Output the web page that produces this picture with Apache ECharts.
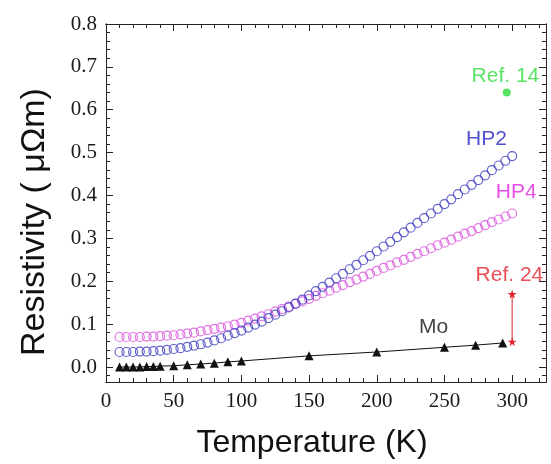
<!DOCTYPE html>
<html>
<head>
<meta charset="utf-8">
<script src="https://cdn.jsdelivr.net/npm/echarts@6/dist/echarts.min.js"></script>
<style>
  html, body { margin: 0; padding: 0; background: #fff; }
  #chart { width: 551px; height: 464px; }
</style>
</head>
<body>
<div id="chart"></div>
<script>
// temperatures of the HP samples (K)
var tempHP = [10, 15, 20, 25, 30, 35, 40, 45, 50, 55, 60, 65, 70, 75, 80, 85, 90, 95, 100,
  105, 110, 115, 120, 125, 130, 135, 140, 145, 150, 155, 160, 165, 170, 175, 180, 185, 190, 195, 200,
  205, 210, 215, 220, 225, 230, 235, 240, 245, 250, 255, 260, 265, 270, 275, 280, 285, 290, 295, 300];
var rhoHP2 = [0.035, 0.035, 0.035, 0.036, 0.036, 0.037, 0.038, 0.040, 0.042, 0.044, 0.047, 0.050, 0.053, 0.057, 0.062, 0.067, 0.073, 0.079, 0.085,
  0.092, 0.099, 0.106, 0.114, 0.122, 0.130, 0.139, 0.148, 0.157, 0.167, 0.177, 0.187, 0.197, 0.207, 0.217, 0.228, 0.238, 0.249, 0.259, 0.270,
  0.281, 0.292, 0.303, 0.314, 0.325, 0.336, 0.347, 0.358, 0.369, 0.380, 0.391, 0.403, 0.414, 0.425, 0.436, 0.447, 0.459, 0.470, 0.481, 0.492];
var rhoHP4 = [0.070, 0.070, 0.070, 0.070, 0.071, 0.071, 0.072, 0.073, 0.074, 0.076, 0.078, 0.080, 0.083, 0.086, 0.089, 0.092, 0.095, 0.099, 0.103,
  0.108, 0.113, 0.118, 0.123, 0.129, 0.135, 0.141, 0.147, 0.153, 0.159, 0.166, 0.172, 0.178, 0.185, 0.191, 0.198, 0.204, 0.211, 0.217, 0.224,
  0.231, 0.237, 0.244, 0.250, 0.257, 0.264, 0.270, 0.277, 0.284, 0.290, 0.297, 0.304, 0.311, 0.317, 0.324, 0.331, 0.338, 0.344, 0.351, 0.358];

// Mo reference
var tempMo = [10, 15, 20, 25, 30, 35, 40, 50, 60, 70, 80, 90, 100, 150, 200, 250, 273, 293];
var rhoMo = [0.000, 0.000, 0.000, 0.000, 0.001, 0.001, 0.002, 0.003, 0.005, 0.007, 0.009, 0.012, 0.014, 0.026, 0.035, 0.046, 0.051, 0.056];

// literature points
var ref14 = [[296, 0.640]];
var ref24 = [[300, 0.059], [300, 0.170]];

// axis ticks
var xTicks = [0, 50, 100, 150, 200, 250, 300];
var yTicks = [0, 0.1, 0.2, 0.3, 0.4, 0.5, 0.6, 0.7, 0.8];

// curve labels: text, T, rho, colour
var notes = [
  ['Ref. 14', 295, 0.678, '#2fdc3c'],
  ['HP2', 281, 0.531, '#2323c4'],
  ['HP4', 303, 0.408, '#e024e0'],
  ['Ref. 24', 298, 0.213, '#e4222a'],
  ['Mo', 242, 0.092, '#111']
];

var xMinor = [], yMinor = [];
for (var i = 10; i <= 320; i += 10) xMinor.push(i);
for (var j = -1; j <= 40; j++) yMinor.push(Math.round(j * 2) / 100);

var X_MIN = 0, X_MAX = 325, Y_MIN = -0.035, Y_MAX = 0.8;
var lineCol = '#222';

function makeX(pos, ticks, len, withLabels) {
  var ax = {
    type: 'value', position: pos, min: X_MIN, max: X_MAX,
    axisLine: { show: true, onZero: false, lineStyle: { color: lineCol, width: 1 } },
    axisTick: { show: true, inside: true, length: len, customValues: ticks, lineStyle: { color: lineCol, width: 1 } },
    axisLabel: { show: false },
    splitLine: { show: false }
  };
  if (withLabels) {
    ax.axisLabel = {
      show: true, customValues: xTicks, margin: 9,
      fontFamily: 'Liberation Serif', fontSize: 21, color: '#1a1a1a'
    };
    ax.name = 'Temperature (K)';
    ax.nameLocation = 'middle';
    ax.nameGap = 45;
    ax.nameTextStyle = { fontFamily: 'Liberation Sans', fontSize: 32, color: '#111', padding: [0, 28, 0, 0] };
  }
  return ax;
}

function makeY(pos, ticks, len, withLabels) {
  var ax = {
    type: 'value', position: pos, min: Y_MIN, max: Y_MAX,
    axisLine: { show: true, onZero: false, lineStyle: { color: lineCol, width: 1 } },
    axisTick: { show: true, inside: true, length: len, customValues: ticks, lineStyle: { color: lineCol, width: 1 } },
    axisLabel: { show: false },
    splitLine: { show: false }
  };
  if (withLabels) {
    ax.axisLabel = {
      show: true, customValues: yTicks, margin: 9,
      fontFamily: 'Liberation Serif', fontSize: 21, color: '#1a1a1a',
      formatter: function (v) { return v.toFixed(1); }
    };
    ax.name = 'Resistivity ( \u03bc\u03a9m)';
    ax.nameLocation = 'middle';
    ax.nameGap = 54;
    ax.nameTextStyle = { fontFamily: 'Liberation Sans', fontSize: 34, color: '#111', padding: [0, 38, 0, 0] };
  }
  return ax;
}

function pairs(xs, ys) {
  return xs.map(function (x, k) { return [x, ys[k]]; });
}

var starPath = 'path://M50,0 L61,35 L98,35 L68,57 L79,91 L50,70 L21,91 L32,57 L2,35 L39,35 Z';

var option = {
  animation: false,
  backgroundColor: '#fff',
  grid: { left: 106, right: 5, top: 24, bottom: 81 },
  xAxis: [
    makeX('bottom', xTicks, 7, true),
    makeX('bottom', xMinor, 4, false),
    makeX('top', xTicks, 7, false),
    makeX('top', xMinor, 4, false)
  ],
  yAxis: [
    makeY('left', yTicks, 7, true),
    makeY('left', yMinor, 4, false),
    makeY('right', yTicks, 7, false),
    makeY('right', yMinor, 4, false)
  ],
  series: [
    {
      name: 'HP4', type: 'scatter', symbol: 'circle', symbolSize: 9,
      data: pairs(tempHP, rhoHP4),
      itemStyle: { color: 'rgba(255,255,255,0)', borderColor: '#d850dc', borderWidth: 1.2 }
    },
    {
      name: 'HP2', type: 'scatter', symbol: 'circle', symbolSize: 9,
      data: pairs(tempHP, rhoHP2),
      itemStyle: { color: 'rgba(255,255,255,0)', borderColor: '#3c3cc0', borderWidth: 1.2 }
    },
    {
      name: 'Mo', type: 'line', symbol: 'triangle', symbolSize: 9, showSymbol: true,
      data: pairs(tempMo, rhoMo),
      lineStyle: { color: '#111', width: 1 },
      itemStyle: { color: '#111' }
    },
    {
      name: 'Ref. 24', type: 'line', symbol: starPath, symbolSize: 9,
      data: ref24,
      lineStyle: { color: '#e4222a', width: 1 },
      itemStyle: { color: '#e4222a' }
    },
    {
      name: 'Ref. 14', type: 'scatter', symbol: 'circle', symbolSize: 8,
      data: ref14,
      itemStyle: { color: '#2fdc3c' }
    },
    {
      name: 'notes', type: 'scatter', symbolSize: 0, silent: true,
      data: notes.map(function (n) {
        return {
          value: [n[1], n[2]],
          label: {
            show: true, position: 'inside', formatter: n[0],
            fontFamily: 'Liberation Sans', fontSize: 21, color: n[3]
          }
        };
      })
    }
  ]
};

var chart = echarts.init(document.getElementById('chart'));
chart.setOption(option);
</script>
</body>
</html>
